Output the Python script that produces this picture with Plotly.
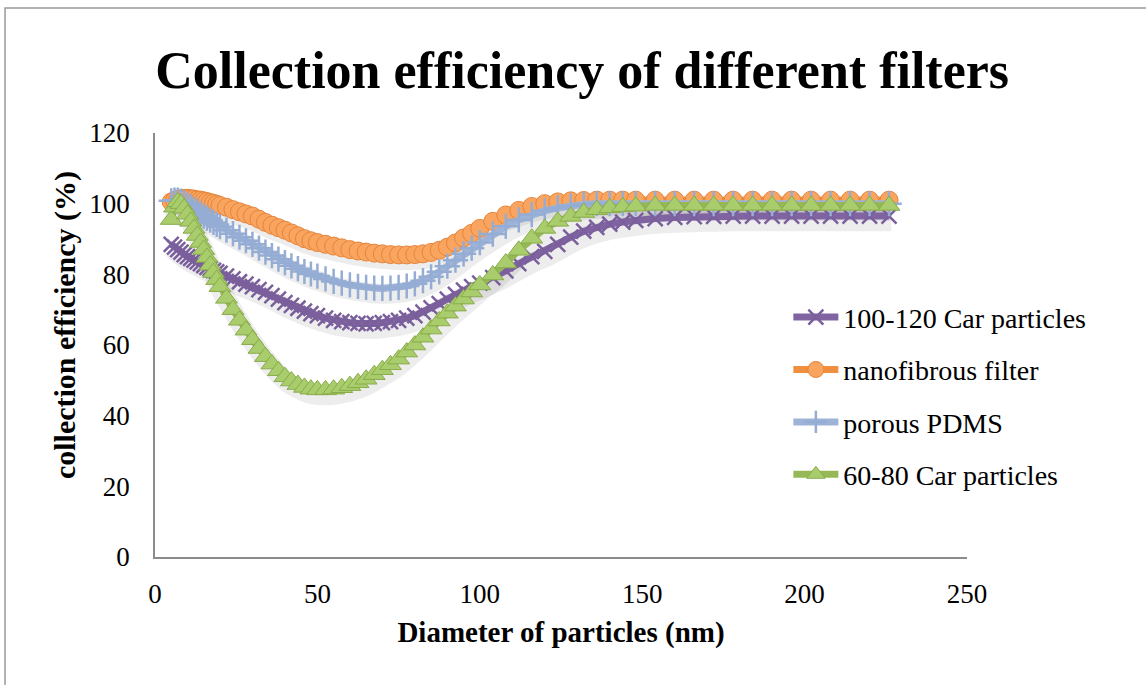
import plotly.graph_objects as go

# Particle diameters (nm) shared by all series
diameter_nm = [5, 6, 7, 8, 9, 10, 11, 12, 13, 14, 15, 16, 17, 18, 19, 20,
               22, 24, 26, 28, 30, 32, 34, 36, 38, 40, 42, 44, 46, 48, 50,
               52.5, 55, 57.5, 60, 62.5, 65, 67.5, 70, 72.5, 75, 77.5, 80, 82.5, 85, 87.5, 90, 92.5, 95, 97.5, 100,
               104, 108, 112, 116, 120, 124, 128, 132, 136, 140, 144, 148,
               154, 160, 166, 172, 178, 184, 190, 196, 202, 208, 214, 220, 226]

car_100_120 = [88.5, 87.7, 87.0, 86.3, 85.6, 85.0, 84.5, 84.0, 83.5, 83.0, 82.5, 82.0, 81.6, 81.1, 80.7, 80.3,
               79.5, 78.7, 77.9, 77.2, 76.5, 75.7, 74.9, 74.0, 73.0, 72.0, 71.2, 70.4, 69.6, 68.9, 68.3,
               67.6, 67.0, 66.6, 66.3, 66.1, 66.0, 66.1, 66.3, 66.6, 67.0, 67.6, 68.3, 69.3, 70.5, 71.7, 73.0, 74.3, 75.5, 76.5, 77.5,
               79.1, 81.0, 83.0, 85.0, 86.5, 88.5, 90.5, 92.2, 93.3, 94.2, 94.8, 95.3,
               95.8, 96.1, 96.3, 96.4, 96.5, 96.5, 96.5, 96.5, 96.5, 96.5, 96.5, 96.5, 96.5]

nanofibrous = [100.5, 100.9, 101.2, 101.4, 101.5, 101.5, 101.4, 101.3, 101.1, 101.0, 100.8, 100.6, 100.3, 100.1, 99.8, 99.5,
               99.0, 98.3, 97.7, 97.1, 96.5, 95.6, 94.7, 93.9, 93.2, 92.5, 91.7, 90.9, 90.1, 89.5, 89.0,
               88.5, 88.0, 87.5, 87.0, 86.6, 86.3, 86.0, 85.8, 85.6, 85.5, 85.5, 85.6, 85.8, 86.2, 86.8, 87.7, 88.9, 90.3, 91.6, 93.0,
               95.0, 96.8, 98.1, 99.2, 100.0, 100.5, 100.8, 100.9, 101.0, 101.0, 101.0, 101.0,
               101.0, 101.0, 101.0, 101.0, 101.0, 101.0, 101.0, 101.0, 101.0, 101.0, 101.0, 101.0, 101.0]

porous_pdms = [100.8, 101.0, 101.0, 100.7, 100.2, 99.6, 99.0, 98.4, 97.8, 97.1, 96.5, 95.9, 95.3, 94.7, 94.1, 93.5,
               92.5, 91.5, 90.5, 89.5, 88.5, 87.4, 86.3, 85.3, 84.3, 83.3, 82.4, 81.6, 80.8, 80.1, 79.5,
               78.7, 78.0, 77.5, 77.0, 76.6, 76.3, 76.1, 76.0, 76.1, 76.3, 76.7, 77.3, 78.2, 79.3, 80.7, 82.3, 84.0, 85.8, 87.4, 89.0,
               91.4, 93.6, 95.4, 96.9, 98.0, 98.8, 99.4, 99.8, 100.0, 100.0, 100.0, 100.0,
               100.0, 100.0, 100.0, 100.0, 100.0, 100.0, 100.0, 100.0, 100.0, 100.0, 100.0, 100.0, 100.0]

car_60_80 = [95.5, 99.0, 100.5, 100.0, 98.7, 97.0, 95.0, 93.0, 91.0, 89.0, 87.0, 84.8, 82.6, 80.5, 78.5, 76.5,
             73.2, 70.0, 67.0, 64.2, 61.5, 59.0, 56.7, 54.6, 52.7, 51.0, 49.8, 48.8, 48.0, 47.5, 47.3,
             47.3, 47.5, 47.9, 48.5, 49.3, 50.3, 51.6, 53.0, 54.4, 56.0, 58.0, 60.0, 62.2, 64.5, 66.8, 69.0, 71.0, 73.0, 75.0, 77.0,
             79.8, 83.2, 86.8, 90.2, 93.0, 95.0, 96.4, 97.5, 98.3, 98.8, 99.1, 99.3,
             99.5, 99.5, 99.5, 99.5, 99.5, 99.5, 99.5, 99.5, 99.5, 99.5, 99.5, 99.5, 99.5]

series_names = ["100-120 Car particles", "nanofibrous filter", "porous PDMS", "60-80 Car particles"]
x_ticks = [0, 50, 100, 150, 200, 250]
y_ticks = [0, 20, 40, 60, 80, 100, 120]

SERIF = "Liberation Serif"
AXIS_GREY = "#8c8c8c"
X_RANGE = [0, 250]
Y_RANGE = [0, 120]

series = [
    (car_100_120, dict(color="#8064A2", width=7),
     dict(symbol="x-thin", size=15, color="#8064A2", line=dict(color="#7A5F9C", width=2.5))),
    (nanofibrous, dict(color="#F0903F", width=7),
     dict(symbol="circle", size=18, color="#F9A560", line=dict(color="#E5843A", width=1))),
    (porous_pdms, dict(color="#9DB3D8", width=7),
     dict(symbol="cross-thin", size=18, color="#9DB3D8", line=dict(color="#95ADD4", width=2.5))),
    (car_60_80, dict(color="#96B856", width=7),
     dict(symbol="triangle-up", size=19, color="#A9CC6C", line=dict(color="#89AC4B", width=1))),
]

fig = go.Figure()

# Soft drop shadows: same data on a hidden axis pair whose ranges are nudged,
# so the band lands slightly below and right of each series.
for values, _, _ in series:
    fig.add_trace(go.Scatter(
        x=diameter_nm, y=values, mode="lines", xaxis="x", yaxis="y",
        line=dict(color="rgba(0,0,0,0.07)", width=20, shape="spline"),
        showlegend=False, hoverinfo="skip",
    ))

# Visible series on the overlaying axis pair (true ranges)
for i, (values, line, marker) in enumerate(series):
    fig.add_trace(go.Scatter(
        x=diameter_nm, y=values, name=series_names[i], mode="lines+markers",
        xaxis="x2", yaxis="y2", legendgroup=str(i),
        line=line, marker=marker,
    ))

hidden = dict(visible=False, showgrid=False, zeroline=False)

fig.update_layout(
    width=1146, height=685,
    margin=dict(l=155, r=179, t=133, b=128),
    paper_bgcolor="white", plot_bgcolor="white",
    title=dict(text="<b>Collection efficiency of different filters</b>",
               x=0.508, xanchor="center", y=0.898, yanchor="middle",
               font=dict(family=SERIF, size=52, color="black")),
    xaxis=dict(range=[X_RANGE[0] - 0.7, X_RANGE[1] - 0.7], **hidden),
    yaxis=dict(range=[Y_RANGE[0] + 1.5, Y_RANGE[1] + 1.5], **hidden),
    xaxis2=dict(overlaying="x", anchor="y2", range=X_RANGE, tickvals=x_ticks, ticks="",
                showgrid=False, zeroline=False,
                showline=True, linecolor=AXIS_GREY, linewidth=1.5,
                ticklabelstandoff=12,
                tickfont=dict(family=SERIF, size=27, color="black"),
                title=dict(text="<b>Diameter of particles (nm)</b>", standoff=14,
                           font=dict(family=SERIF, size=29, color="black"))),
    yaxis2=dict(overlaying="y", anchor="x2", range=Y_RANGE, tickvals=y_ticks, ticks="",
                showgrid=False, zeroline=False,
                showline=True, linecolor=AXIS_GREY, linewidth=1.5,
                ticklabelstandoff=18,
                tickfont=dict(family=SERIF, size=27, color="black")),
    annotations=[dict(text="<b>collection efficiency (%)</b>", textangle=-90,
                      xref="paper", yref="paper", x=-0.1108, y=0.547,
                      xanchor="center", yanchor="middle", showarrow=False,
                      font=dict(family=SERIF, size=30, color="black"))],
    legend=dict(x=0.780, xanchor="left", y=0.38, yanchor="middle",
                font=dict(family=SERIF, size=28, color="black"),
                bgcolor="rgba(0,0,0,0)", itemwidth=45, tracegroupgap=13),
    showlegend=True,
    shapes=[dict(type="rect", xref="paper", yref="paper",
                 x0=-0.1847, x1=2.0, y0=-2.0, y1=1.2948,
                 line=dict(color="#9a9a9a", width=1.5), fillcolor="rgba(0,0,0,0)",
                 layer="below")],
)

fig.write_html("out.html")
